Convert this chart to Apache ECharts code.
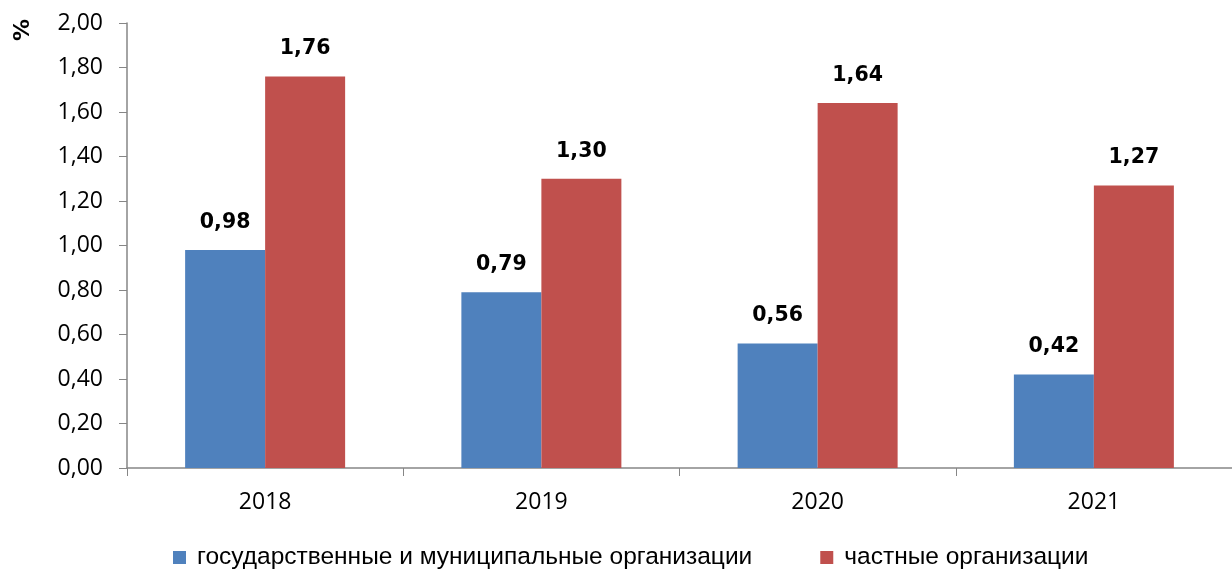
<!DOCTYPE html>
<html>
<head>
<meta charset="utf-8">
<script src="https://cdn.jsdelivr.net/npm/echarts@6/dist/echarts.min.js"></script>
<style>
  html, body { margin: 0; padding: 0; background: #fff; }
  #chart { width: 1232px; height: 569px; }
</style>
</head>
<body>
<div id="chart"></div>
<script>
// Years on the category axis
const years = ['2018', '2019', '2020', '2021'];
// Shares, %, by type of organisation
const stateMunicipal = [0.98, 0.79, 0.56, 0.42];
const privateOrgs = [1.76, 1.30, 1.64, 1.27];
// Series names shown in the legend
const seriesNames = ['государственные и муниципальные организации', 'частные организации'];

const fmt = v => v.toFixed(2).replace('.', ',');
const axisColor = '#868686';
const tickFont = { color: '#000', fontSize: 23, fontFamily: 'Open Sans, Liberation Sans, sans-serif' };
const valueLabel = {
  show: true, position: 'top', distance: 17,
  formatter: p => fmt(p.value),
  color: '#000', fontSize: 20.5, fontWeight: 'bold', fontFamily: 'DejaVu Sans, sans-serif'
};

const chart = echarts.init(document.getElementById('chart'));
chart.setOption({
  animation: false,
  backgroundColor: '#fff',
  grid: { left: 127, top: 23, width: 1114, height: 445, containLabel: false },
  graphic: [{
    type: 'text',
    x: 23, y: 30,
    rotation: Math.PI / 2,
    style: {
      text: '%', fill: '#000', fontSize: 22, fontWeight: 'bold',
      fontFamily: 'DejaVu Sans, sans-serif', align: 'center', verticalAlign: 'middle'
    }
  }],
  legend: {
    data: seriesNames,
    top: 545,
    left: 173,
    padding: 0,
    itemWidth: 13,
    itemHeight: 13,
    itemGap: 68,
    icon: 'rect',
    textStyle: {
      color: '#000', fontSize: 24.5, padding: [0, 0, 0, 6],
      fontFamily: 'Liberation Sans, Arial, sans-serif'
    }
  },
  xAxis: {
    type: 'category',
    data: years,
    axisLine: { lineStyle: { color: axisColor, width: 1.5 } },
    axisTick: { show: true, length: 8, alignWithLabel: false, lineStyle: { color: axisColor } },
    axisLabel: Object.assign({ margin: 23 }, tickFont)
  },
  yAxis: {
    type: 'value',
    min: 0,
    max: 2,
    interval: 0.2,
    splitLine: { show: false },
    axisLine: { show: true, lineStyle: { color: axisColor, width: 1.5 } },
    axisTick: { show: true, length: 8, lineStyle: { color: axisColor } },
    axisLabel: Object.assign({ margin: 24, formatter: v => fmt(v) }, tickFont)
  },
  series: [
    {
      name: seriesNames[0],
      type: 'bar',
      data: stateMunicipal,
      barWidth: 80,
      barGap: '0%',
      itemStyle: { color: '#4F81BD' },
      label: valueLabel
    },
    {
      name: seriesNames[1],
      type: 'bar',
      data: privateOrgs,
      barWidth: 80,
      barGap: '0%',
      itemStyle: { color: '#C0504D' },
      label: valueLabel
    }
  ]
});
</script>
</body>
</html>
